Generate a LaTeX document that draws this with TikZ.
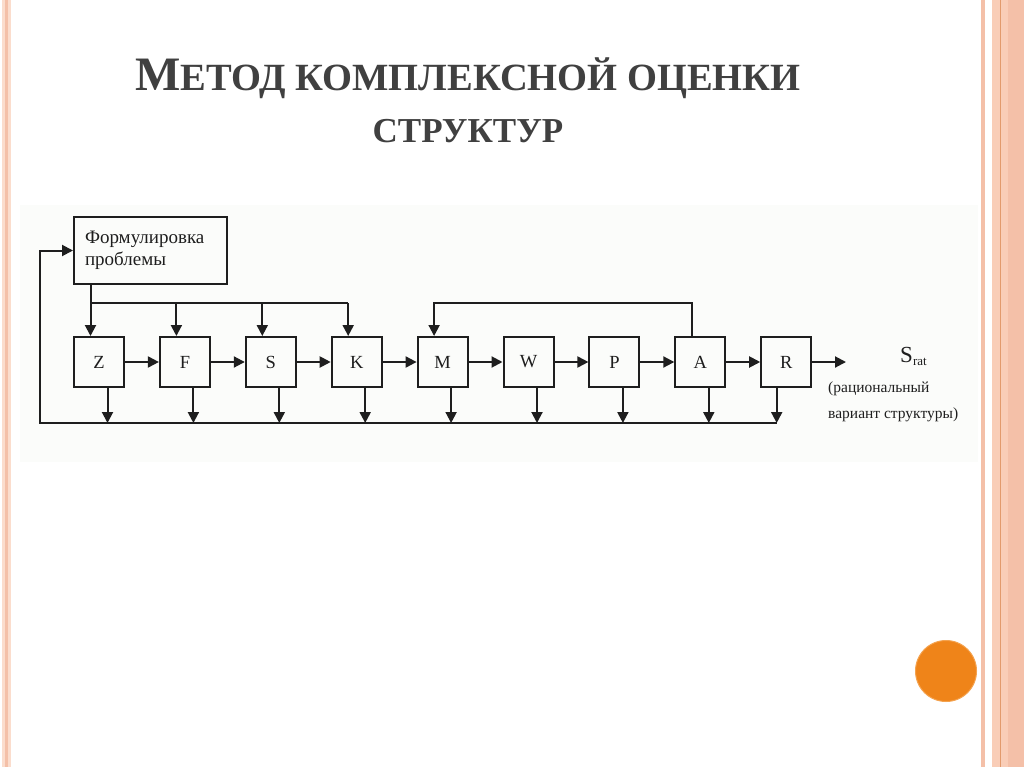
\documentclass[tikz,border=0pt]{standalone}
\usepackage{fontspec}
\setmainfont{Liberation Serif}
\usepackage{tikz}
\usetikzlibrary{arrows.meta,calc,positioning}
\definecolor{SlideInk}{HTML}{1E1E1E}
\definecolor{SlideTitle}{HTML}{404040}
\definecolor{SlidePeach}{HTML}{F9CDB7}
\definecolor{SlidePeachDark}{HTML}{F4C0A8}
\definecolor{SlidePeachLight}{HTML}{FBDDCD}
\definecolor{SlideRust}{HTML}{E29A6C}
\definecolor{SlideOrange}{HTML}{EF8419}
\definecolor{SlideOrangeRim}{HTML}{F4A24E}
\definecolor{SlidePanel}{HTML}{FBFCFA}

\begin{document}
\begin{tikzpicture}[x=1pt,y=-1pt,>={Triangle[length=11pt,width=11pt]},
  blk/.style={draw=SlideInk,line width=2pt,minimum width=50pt,minimum height=50pt,
    inner sep=0pt,text=SlideInk,font=\fontsize{18.5}{20}\selectfont},
  probbox/.style={draw=SlideInk,line width=2pt,minimum width=153pt,minimum height=67pt,
    text width=131pt,align=left,inner sep=0pt,text=SlideInk,font=\fontsize{19}{22}\selectfont},
  link/.style={draw=SlideInk,line width=2pt},
  note/.style={anchor=base west,inner sep=0pt,text=SlideInk,font=\fontsize{15.5}{18}\selectfont}]
  \useasboundingbox (0,0) rectangle (1024,767);
  \fill[white] (0,0) rectangle (1024,767);
  \fill[SlidePeachLight] (2,0) rectangle (11,767);
  \fill[SlidePeachDark] (5,0) rectangle (8,767);
  \fill[SlidePeachDark] (981,0) rectangle (985,767);
  \fill[SlidePeach] (992,0) rectangle (1024,767);
  \fill[SlidePeachDark] (1008,0) rectangle (1024,767);
  \draw[SlideRust,line width=1pt] (1000,0) -- (1000,767);
  \fill[SlidePanel] (20,205) rectangle (978,462);
  \filldraw[fill=SlideOrange,draw=SlideOrangeRim,line width=1pt] (946,671) circle (30.5pt);
  \node[anchor=base,inner sep=0pt,text=SlideTitle,font=\bfseries] (ttl1) at (468,91)
    {{\fontsize{48}{50}\selectfont М}{\fontsize{38.5}{40}\selectfont ЕТОД КОМПЛЕКСНОЙ ОЦЕНКИ}};
  \node[anchor=base,inner sep=0pt,text=SlideTitle,font=\bfseries] (ttl2) at (468,143)
    {\fontsize{35}{40}\selectfont СТРУКТУР};
  \node[probbox] (Form) at (150.5,250.5) {Формулировка\\проблемы};
  \foreach \lbl [count=\i from 0] in {Z,F,S,K,M,W,P,A,R}
    \node[blk] (\lbl) at ({99+85.9*\i},362) {\lbl};
  \foreach \a/\b in {Z/F,F/S,S/K,K/M,M/W,W/P,P/A,A/R}
    \draw[link,->] (\a) -- (\b);
  \coordinate (Rout) at (846,362);
  \draw[link,->] (R) -- (Rout);
  \node[anchor=base west,inner sep=0pt,text=SlideInk] (Srat) at (900,362)
    {\fontsize{23}{24}\selectfont S\raisebox{-3pt}{\fontsize{13}{14}\selectfont rat}};
  \node[note] (note1) at (828,392) {(рациональный};
  \node[note] (note2) at (828,418) {вариант структуры)};
  \coordinate (topbus) at (0,303);
  \coordinate (busL) at (40,423);
  \foreach \lbl in {Z,F,S,K,M,A}
    \coordinate (\lbl top) at ($(\lbl.north)+(-8.5,0)$);
  \foreach \lbl in {Z,F,S,K,M,W,P,A}
    \coordinate (\lbl bot) at ($(\lbl.south)+(8.5,0)$);
  \coordinate (Rbot) at ($(R.south)+(-9.5,0)$);
  \draw[link] (Form.south -| Ztop) -- (Ztop |- topbus) -- (Ktop |- topbus);
  \foreach \lbl in {Z,F,S,K}
    \draw[link,->] (\lbl top |- topbus) -- (\lbl top);
  \draw[link,->] (Atop) -- (Atop |- topbus) -- (Mtop |- topbus) -- (Mtop);
  \foreach \lbl in {Z,F,S,K,M,W,P,A,R}
    \draw[link,->] (\lbl bot) -- (\lbl bot |- busL);
  \draw[link,->] (busL -| Rbot) -- (busL) |- (Form.west);
\end{tikzpicture}
\end{document}
